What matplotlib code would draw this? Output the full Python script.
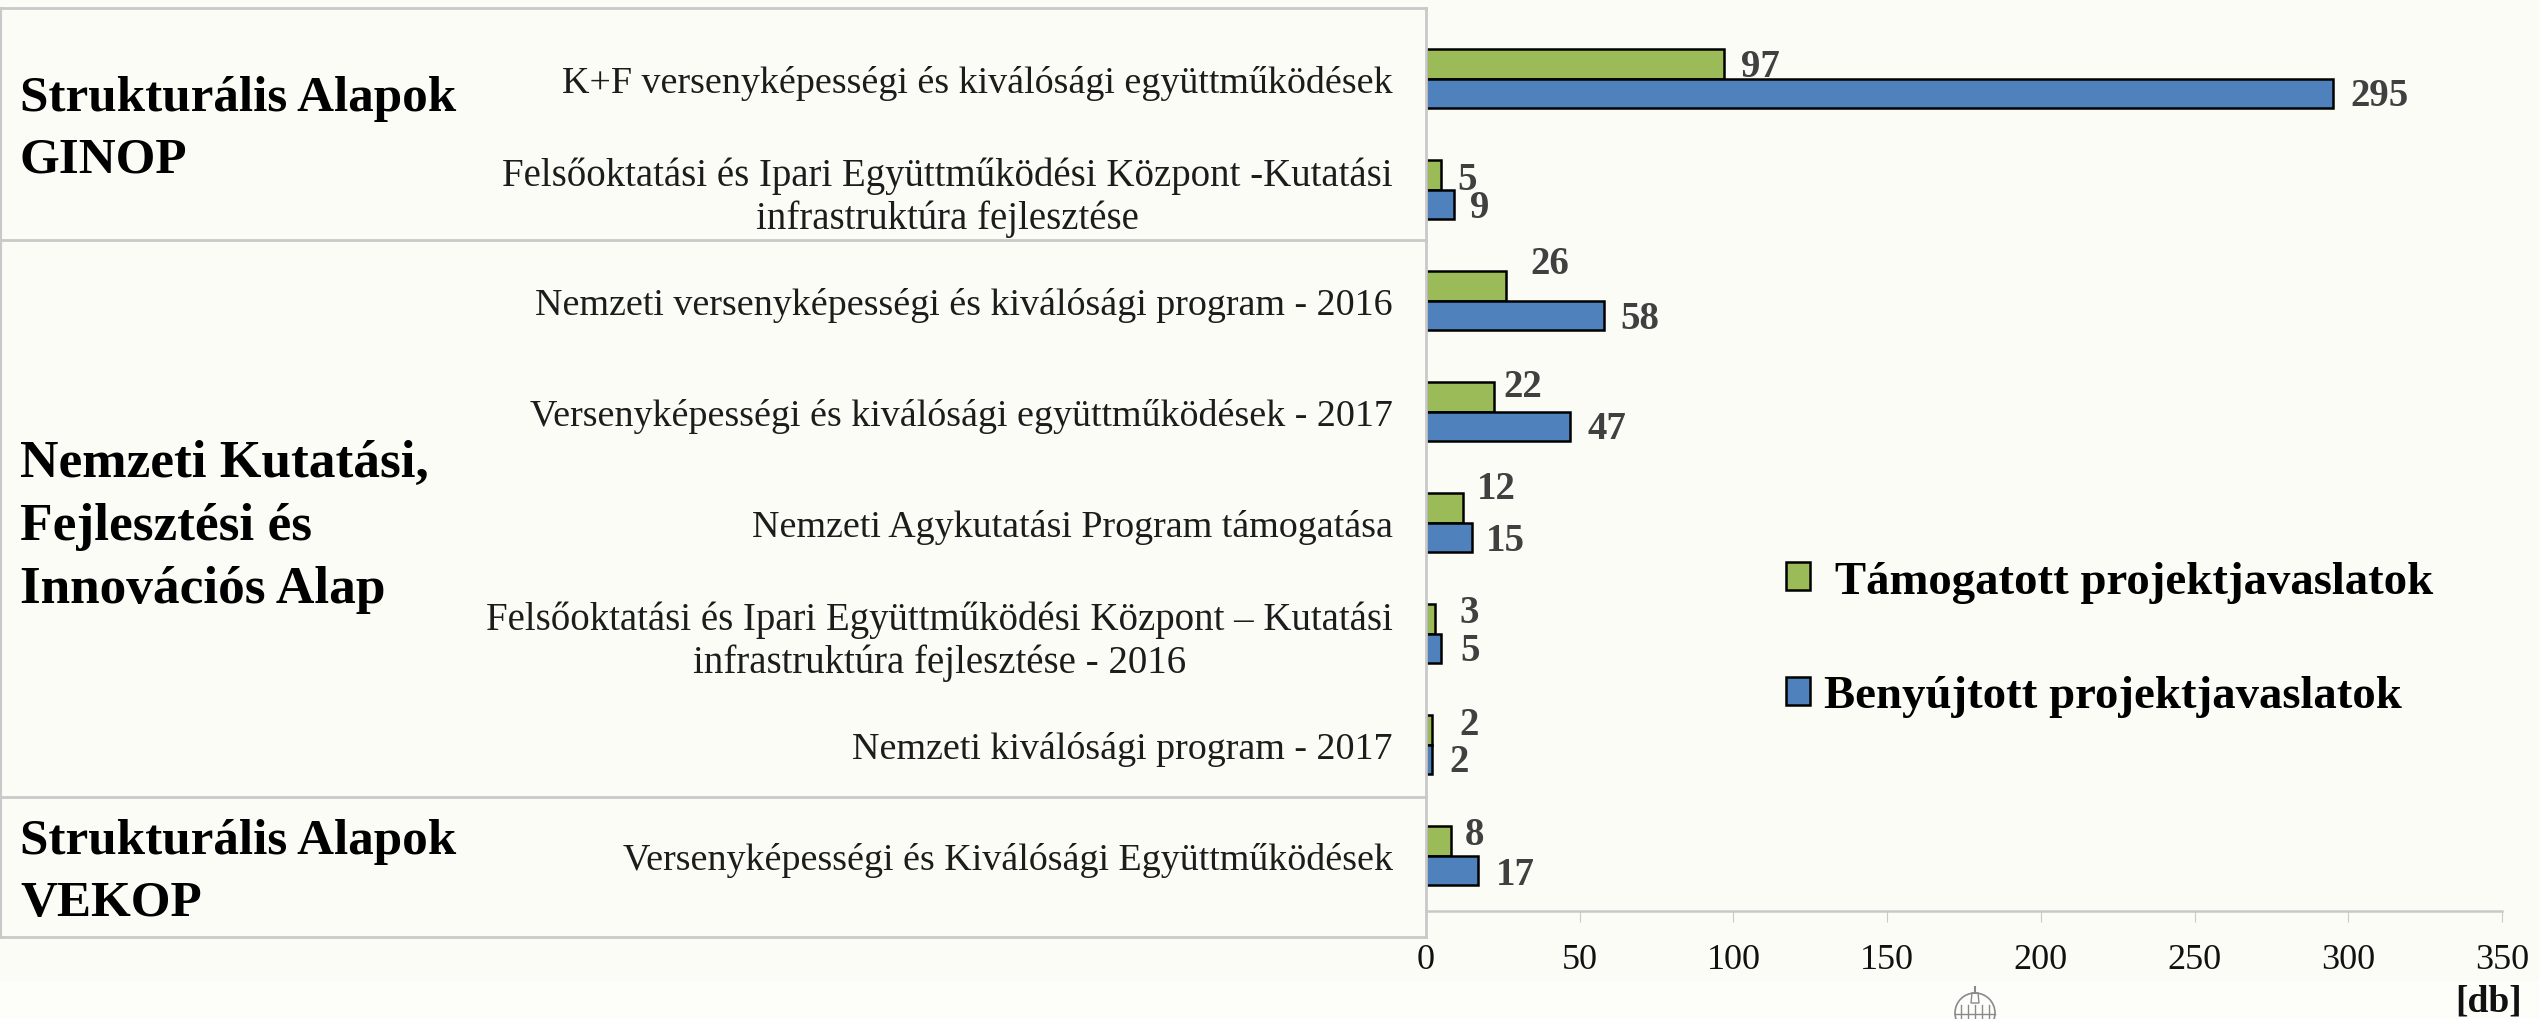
import matplotlib
matplotlib.use('Agg')
import matplotlib.pyplot as plt
from matplotlib.lines import Line2D
from matplotlib.patches import Rectangle, Polygon, Ellipse

plt.rcParams['font.family'] = ['Liberation Serif', 'DejaVu Serif']

# Data
categories = [
    "K+F versenyképességi és kiválósági együttműködések",
    "Felsőoktatási és Ipari Együttműködési Központ -Kutatási\ninfrastruktúra fejlesztése",
    "Nemzeti versenyképességi és kiválósági program - 2016",
    "Versenyképességi és kiválósági együttműködések - 2017",
    "Nemzeti Agykutatási Program támogatása",
    "Felsőoktatási és Ipari Együttműködési Központ – Kutatási\ninfrastruktúra fejlesztése - 2016",
    "Nemzeti kiválósági program - 2017",
    "Versenyképességi és Kiválósági Együttműködések",
]
supported = [97, 5, 26, 22, 12, 3, 2, 8]
submitted = [295, 9, 58, 47, 15, 5, 2, 17]
x_ticks = [0, 50, 100, 150, 200, 250, 300, 350]
supported_name = " Támogatott projektjavaslatok"
submitted_name = "Benyújtott projektjavaslatok"

# Hand placed label offsets, in pixels (x from the bar end, y up from the bar centre)
supported_offsets = [(17, -3), (16, -5), (24, 22), (10, 10), (14, 19), (24, 6), (27, 5), (14, 6)]
submitted_offsets = [(17, -2), (16, -3), (16, -3), (17, -2), (14, -3), (19, -2), (17, -2), (18, -4)]

W, H = 2539, 1020
BG = '#fbfcf6'
GRAY = '#c9c9c9'
GREEN = '#9bbb59'
BLUE = '#4f81bd'
DARK = '#404040'

fig = plt.figure(figsize=(W / 100, H / 100), dpi=100, facecolor=BG)


def fx(px):
    return px / W


def fy(py):
    return 1 - py / H


# Lighter strip along the bottom
fig.add_artist(Rectangle((0, 0), 1, fy(982), transform=fig.transFigure, fc='#fdfdfa', ec='none', zorder=0))

ax = fig.add_axes([fx(1426), fy(912), 1076 / W, 888 / H])
ax.set_facecolor('none')

rows = list(range(len(categories)))
bar_h = 29.5 / 111
ax.barh([r - bar_h / 2 for r in rows], supported, height=bar_h, color=GREEN, edgecolor='black',
        linewidth=1.8, label=supported_name, zorder=3)
ax.barh([r + bar_h / 2 for r in rows], submitted, height=bar_h, color=BLUE, edgecolor='black',
        linewidth=1.8, label=submitted_name, zorder=3)

ax.set_xlim(0, 350)
ax.set_ylim(len(categories) - 0.5, -0.5)
ax.set_xticks(x_ticks)
ax.set_yticks(rows)
ax.set_yticklabels(categories, fontsize=27.4, color='#1c1c1c', multialignment='center', linespacing=1.2)
# the two long labels run a little wider in the original
for i in [1, 5]:
    ax.get_yticklabels()[i].set_fontsize(28)
ax.tick_params(axis='y', length=0, pad=24)
ax.tick_params(axis='x', length=8, width=0.8, color=GRAY, labelsize=26, pad=15, labelcolor='#111111')
for side in ['top', 'right', 'left']:
    ax.spines[side].set_visible(False)
ax.spines['bottom'].set_color(GRAY)
ax.spines['bottom'].set_linewidth(1.8)

# Value labels
for r in rows:
    for val, off, sign in [(supported[r], supported_offsets[r], -1), (submitted[r], submitted_offsets[r], 1)]:
        ax.annotate(str(val), (val, r + sign * bar_h / 2), xytext=(off[0] * 0.72, off[1] * 0.72),
                    textcoords='offset points', ha='left', va='center', fontsize=28,
                    fontweight='bold', color=DARK, zorder=4)

# Left hand group boxes
for y in [9, 241, 798, 938]:
    fig.add_artist(Line2D([0, fx(1426)], [fy(y), fy(y)], color=GRAY, lw=2))
fig.add_artist(Line2D([fx(1426), fx(1426)], [fy(9), fy(938)], color=GRAY, lw=2))
fig.add_artist(Line2D([fx(1), fx(1)], [fy(9), fy(938)], color=GRAY, lw=1.5))

group_titles = [
    ("Strukturális Alapok\nGINOP", 130, 36.8, 1.44),
    ("Nemzeti Kutatási,\nFejlesztési és\nInnovációs Alap", 527, 38.4, 1.4),
    ("Strukturális Alapok\nVEKOP", 873, 36.8, 1.44),
]
for title, y, size, spacing in group_titles:
    fig.text(fx(20), fy(y), title, fontsize=size, fontweight='bold', color='black', ha='left', va='center',
             linespacing=spacing)

# Legend
ax.legend(loc='center left', bbox_to_anchor=(fx(1786), fy(640)), bbox_transform=fig.transFigure, frameon=False,
          prop={'size': 33.7, 'weight': 'bold'}, handlelength=0.51, handleheight=0.55, handletextpad=0.3,
          labelspacing=1.55, labelcolor='black', borderpad=0, borderaxespad=0)

fig.text(fx(2522), fy(1002), "[db]", fontsize=27, fontweight='bold', color='#111111', ha='right', va='center')

# Small parliament dome mark at the bottom
dome = '#8a8a8a'
fig.add_artist(Ellipse((fx(1975), fy(1014)), 40 / W, 40 / H, transform=fig.transFigure, fc='none', ec=dome, lw=1.2))
fig.add_artist(Polygon([(fx(1972), fy(994)), (fx(1978), fy(994)), (fx(1979), fy(1004)), (fx(1971), fy(1004))],
                       transform=fig.transFigure, fc='none', ec=dome, lw=1))
fig.add_artist(Line2D([fx(1975), fx(1975)], [fy(988), fy(994)], color=dome, lw=1.5))
for x in [1961, 1968, 1975, 1982, 1989]:
    fig.add_artist(Line2D([fx(x), fx(x)], [fy(1006), fy(1020)], color=dome, lw=1))
fig.add_artist(Line2D([fx(1955), fx(1995)], [fy(1015), fy(1015)], color=dome, lw=1))

fig.savefig('out.png', dpi=100, facecolor=fig.get_facecolor())
